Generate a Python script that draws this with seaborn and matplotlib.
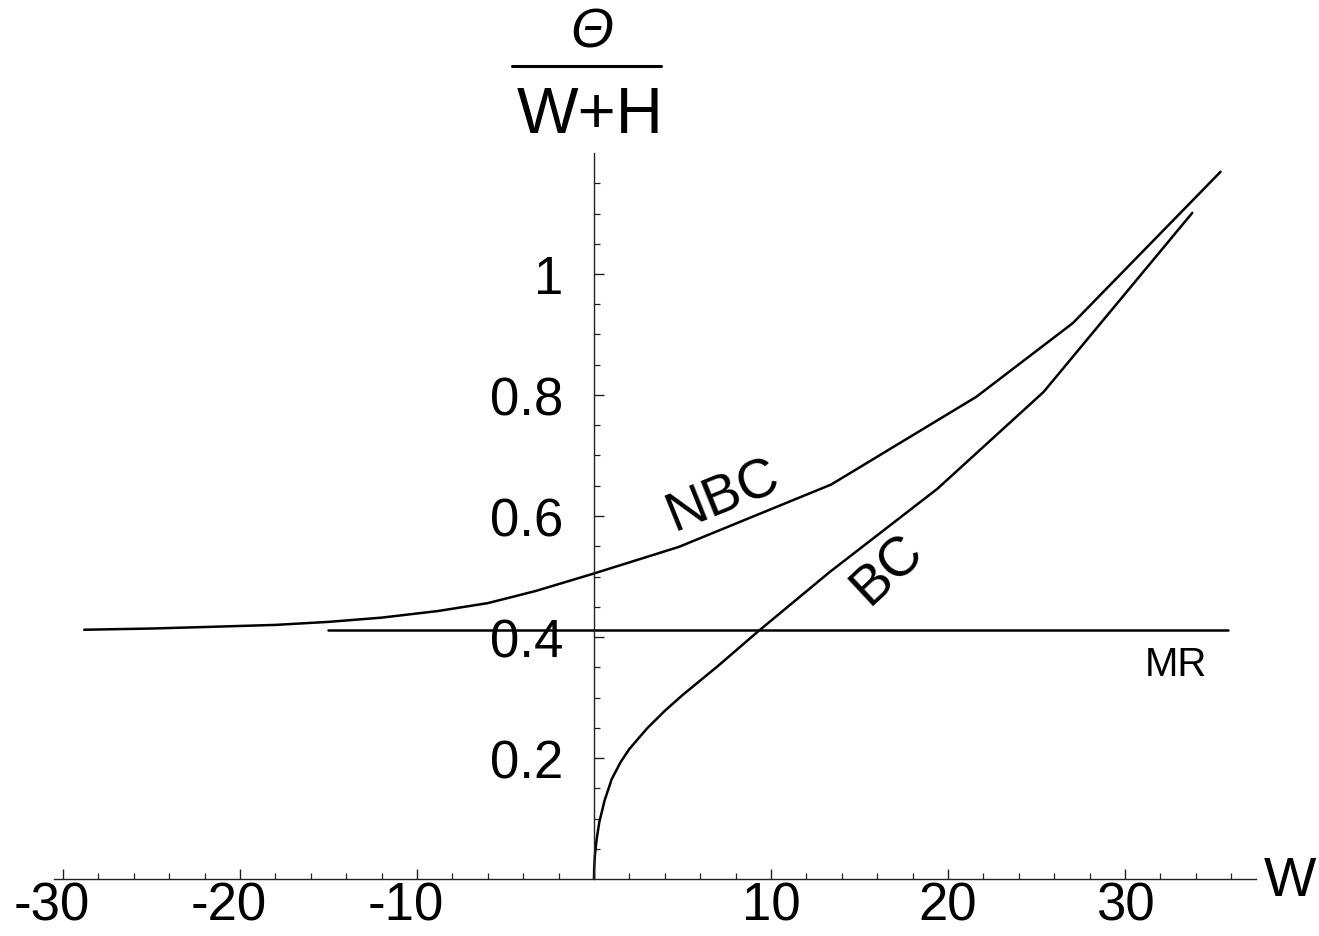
import matplotlib
matplotlib.use("Agg")
import matplotlib.pyplot as plt
import matplotlib.transforms as mtransforms
import seaborn as sns
import pandas as pd
import numpy as np
from matplotlib.lines import Line2D

# ---- data ----
nbc_w = [-28.8, -25, -22, -18, -15, -12, -8.8, -6, -3.3, 0, 4.8, 13.4, 21.6, 27.06, 35.4]
nbc_r = [0.412, 0.414, 0.4165, 0.420, 0.425, 0.432, 0.443, 0.456, 0.476, 0.505, 0.549, 0.652, 0.797, 0.919, 1.169]

bc_w = [0.0, 0.01, 0.05, 0.15, 0.3, 0.6, 1.0, 1.5, 2.0, 3.0, 4.0, 5.0, 7.0, 9.3, 13.3, 19.4, 25.4, 33.8]
bc_r = [0.0, 0.018, 0.039, 0.066, 0.094, 0.13, 0.165, 0.193, 0.215, 0.249, 0.278, 0.304, 0.352, 0.41, 0.507, 0.645, 0.805, 1.101]

mr_w = [-15.0, 35.8]
mr_r = [0.412, 0.412]

x_major = [-30, -20, -10, 10, 20, 30]
x_labels = ["-30", "-20", "-10", "10", "20", "30"]
y_major = [0.2, 0.4, 0.6, 0.8, 1.0]
y_labels = ["0.2", "0.4", "0.6", "0.8", "1"]

# ---- style ----
sns.set_style("ticks")
plt.rcParams['font.family'] = ['Liberation Sans', 'DejaVu Sans']
plt.rcParams['text.color'] = 'black'
plt.rcParams['axes.labelcolor'] = 'black'
plt.rcParams['xtick.color'] = 'black'
plt.rcParams['ytick.color'] = 'black'

W, H = 1319, 937
fig = plt.figure(figsize=(W / 100, H / 100), dpi=100)

xlim = (-30.5, 37.4)
ylim = (0.0, 1.2)
px_per_x = 17.7
px_per_y = 605
origin_x, origin_y = 594, 880
left_px = origin_x + xlim[0] * px_per_x
right_px = origin_x + xlim[1] * px_per_x
top_px = origin_y - ylim[1] * px_per_y
ax = fig.add_axes([left_px / W, (H - origin_y) / H,
                   (right_px - left_px) / W, (origin_y - top_px) / H])
ax.set_xlim(*xlim)
ax.set_ylim(*ylim)

lw = 1.8
df_nbc = pd.DataFrame({"W": nbc_w, "R": nbc_r})
df_bc = pd.DataFrame({"W": bc_w, "R": bc_r})
df_mr = pd.DataFrame({"W": mr_w, "R": mr_r})
for d in (df_nbc, df_bc, df_mr):
    sns.lineplot(data=d, x="W", y="R", ax=ax, color="black", linewidth=lw,
                 sort=False, estimator=None)

# spines through origin
for s in ("top", "right"):
    ax.spines[s].set_visible(False)
ax.spines["left"].set_position(("data", 0))
ax.spines["bottom"].set_position(("data", 0))
for s in ("left", "bottom"):
    ax.spines[s].set_linewidth(1.0)
    ax.spines[s].set_color("#222222")

ax.set_xticks(x_major)
ax.set_xticklabels(x_labels)
ax.set_xticks(np.arange(-30, 37, 2), minor=True)
ax.set_yticks(y_major)
ax.set_yticklabels(y_labels)
ax.set_yticks(np.arange(0.05, 1.2, 0.05), minor=True)

ax.tick_params(axis="both", which="major", direction="in", length=7, width=1.0,
               colors="#222222", labelcolor="black", labelsize=38)
ax.tick_params(axis="both", which="minor", direction="in", length=4.5, width=0.9,
               colors="#222222")
ax.tick_params(axis="x", which="major", pad=1)
ax.tick_params(axis="y", which="major", pad=22)
ax.set_xlabel("")
ax.set_ylabel("")

# shift negative x labels slightly left (minus sign hangs out)
shift = mtransforms.ScaledTranslation(-11 / 100, 0, fig.dpi_scale_trans)
for lab in ax.get_xticklabels():
    if lab.get_text().startswith("-"):
        lab.set_transform(lab.get_transform() + shift)

# curve labels
ax.text(7.3, (880 - 497) / 605, "NBC", fontsize=40, rotation=22,
        ha="center", va="center")
ax.text(16.6, (880 - 570) / 605, "BC", fontsize=40, rotation=43,
        ha="center", va="center")
ax.text(32.9, (880 - 665) / 605, "MR", fontsize=29, ha="center", va="center")

# axis labels
fig.text(1290 / W, 1 - 882 / H, "W", fontsize=40, ha="center", va="center")
fig.text(592 / W, 1 - 33 / H, "Θ", fontsize=40, ha="center", va="center",
         style="italic")
fig.add_artist(Line2D([512 / W, 661 / W], [1 - 67 / H, 1 - 67 / H],
                      transform=fig.transFigure, color="black", linewidth=2.2))
fig.text(590 / W, 1 - 116 / H, "W+H", fontsize=47, ha="center", va="center")

fig.savefig("out.png", dpi=100)
